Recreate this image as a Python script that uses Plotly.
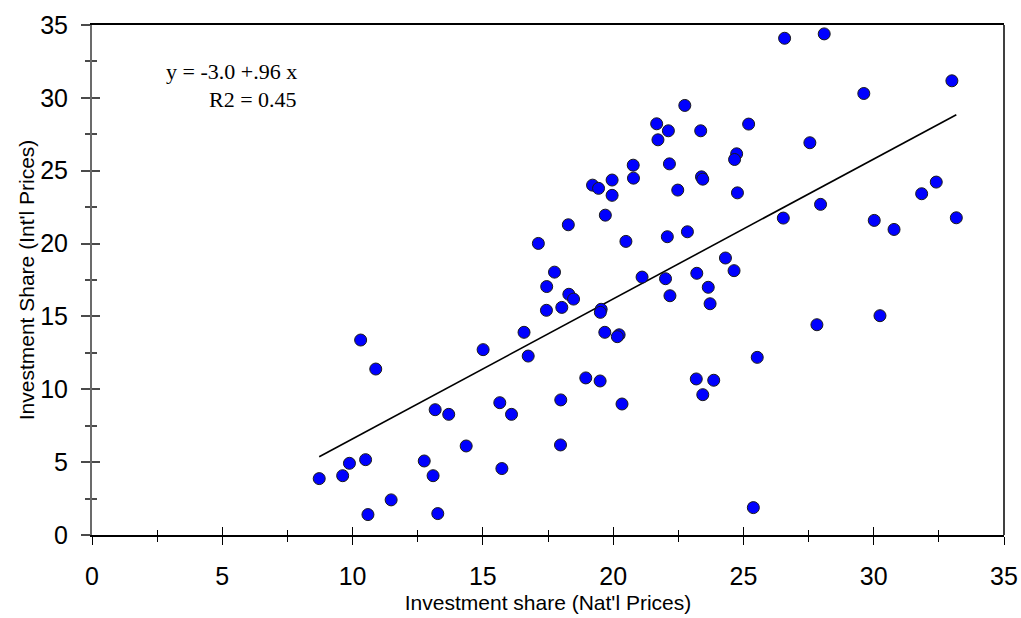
import plotly.graph_objects as go

# Investment share measured at national vs. international prices
nat_prices = [
    8.72, 9.62, 9.88, 10.50, 10.59, 11.48, 10.31, 10.89, 12.75, 13.09,
    13.27, 13.17, 13.69, 14.36, 15.01, 15.65, 16.10, 15.73, 16.58, 16.74,
    17.44, 18.03, 17.99, 17.98, 18.95, 19.50, 19.54, 19.51, 19.68, 20.23,
    20.16, 20.34, 23.72, 27.82, 30.24, 25.53, 23.19, 23.86, 23.44, 25.38,
    22.75, 21.67, 22.12, 23.36, 25.20, 21.72, 27.55, 24.74, 24.66, 20.77,
    22.16, 20.78, 23.39, 23.44, 19.21, 19.44, 19.96, 19.96, 22.48, 24.77,
    27.96, 26.53, 19.70, 18.28, 20.49, 22.08, 22.85, 24.31, 24.64, 23.21,
    23.65, 22.18, 22.01, 21.11, 17.75, 18.30, 18.48, 17.45, 26.58, 28.10,
    33.00, 29.62, 30.02, 30.78, 31.84, 32.40, 33.17, 17.13,
]
intl_prices = [
    3.87, 4.07, 4.92, 5.17, 1.40, 2.41, 13.38, 11.39, 5.08, 4.07,
    1.47, 8.60, 8.28, 6.11, 12.72, 9.08, 8.28, 4.56, 13.91, 12.28,
    15.42, 15.62, 9.27, 6.18, 10.78, 10.57, 15.49, 15.28, 13.91, 13.74,
    13.61, 8.99, 15.87, 14.43, 15.05, 12.19, 10.71, 10.62, 9.63, 1.88,
    29.48, 28.22, 27.74, 27.74, 28.20, 27.12, 26.92, 26.16, 25.77, 25.38,
    25.47, 24.49, 24.58, 24.42, 24.01, 23.79, 24.36, 23.31, 23.67, 23.48,
    22.69, 21.75, 21.95, 21.29, 20.15, 20.47, 20.81, 19.01, 18.14, 17.96,
    17.00, 16.42, 17.59, 17.70, 18.04, 16.52, 16.19, 17.05, 34.09, 34.39,
    31.17, 30.30, 21.59, 20.97, 23.42, 24.22, 21.77, 20.01,
]

# Fitted regression: y = -3.0 + 0.96 x, R2 = 0.45
intercept = -3.0
slope = 0.96
r_squared = 0.45

axis_ticks = [0, 5, 10, 15, 20, 25, 30, 35]

fit_x = [min(nat_prices), max(nat_prices)]
fit_y = [intercept + slope * v for v in fit_x]

sans = "Liberation Sans, Arial, sans-serif"
serif = "Liberation Serif, Times New Roman, serif"

fig = go.Figure()

fig.add_trace(go.Scatter(
    x=fit_x, y=fit_y, mode="lines",
    line=dict(color="black", width=1.6),
    hoverinfo="skip", showlegend=False,
))

fig.add_trace(go.Scatter(
    x=nat_prices, y=intl_prices, mode="markers",
    marker=dict(symbol="circle", size=12, color="#0000FF",
                line=dict(color="#1a1a1a", width=1)),
    showlegend=False,
))

# invisible trace that anchors the overlay axes carrying the inner tick halves
fig.add_trace(go.Scatter(
    x=[None], y=[None], xaxis="x2", yaxis="y2",
    mode="markers", showlegend=False, hoverinfo="skip",
))

common_range = [0, 35]

fig.update_layout(
    width=1021, height=618,
    margin=dict(l=92, r=17, t=25, b=83),
    paper_bgcolor="white", plot_bgcolor="white",
    font=dict(family=sans, color="black"),
    xaxis=dict(
        range=common_range, tickvals=axis_ticks, automargin=False,
        showgrid=False, zeroline=False,
        showline=True, linecolor="black", linewidth=1.5, mirror=True,
        ticks="outside", ticklen=8, tickwidth=1, tickcolor="black",
        minor=dict(ticks="outside", ticklen=5, dtick=2.5, tick0=0,
                   tickcolor="black", tickwidth=1, showgrid=False),
        tickfont=dict(family=sans, size=25, color="black"),
        ticklabelstandoff=10,
        title=dict(text="Investment share (Nat'l Prices)",
                   font=dict(family=sans, size=21, color="black"),
                   standoff=7),
    ),
    yaxis=dict(
        range=common_range, tickvals=axis_ticks, automargin=False,
        showgrid=False, zeroline=False,
        showline=True, linecolor="#6b6b6b", linewidth=2, mirror=False,
        ticks="outside", ticklen=9, tickwidth=1.5, tickcolor="#4a4a4a",
        minor=dict(ticks="outside", ticklen=5, dtick=2.5, tick0=0,
                   tickcolor="#4a4a4a", tickwidth=1.5, showgrid=False),
        tickfont=dict(family=sans, size=25, color="black"),
        ticklabelstandoff=8,
        title=dict(text="Investment Share (Int'l Prices)",
                   font=dict(family=sans, size=21, color="black"),
                   standoff=0),
    ),
    xaxis2=dict(
        range=common_range, tickvals=axis_ticks, overlaying="x",
        anchor="y", side="bottom", automargin=False,
        showgrid=False, zeroline=False, showline=False,
        showticklabels=False,
        ticks="inside", ticklen=8, tickwidth=1, tickcolor="black",
        minor=dict(ticks="inside", ticklen=5, dtick=2.5, tick0=0,
                   tickcolor="black", tickwidth=1, showgrid=False),
    ),
    yaxis2=dict(
        range=common_range, tickvals=axis_ticks, overlaying="y",
        anchor="x", side="left", automargin=False,
        showgrid=False, zeroline=False, showline=False,
        showticklabels=False,
        ticks="inside", ticklen=8, tickwidth=1.5, tickcolor="#4a4a4a",
        minor=dict(ticks="inside", ticklen=5, dtick=2.5, tick0=0,
                   tickcolor="#4a4a4a", tickwidth=1.5, showgrid=False),
    ),
    shapes=[dict(type="line", xref="paper", yref="paper",
                 x0=1, x1=1, y0=0, y1=1,
                 line=dict(color="black", width=1.5))],
)

eq_text = f"y = {intercept:.1f} +{str(slope).lstrip('0')} x"
r2_text = f"R2 = {r_squared:.2f}"

fig.add_annotation(x=7.95, y=31.8, xref="x", yref="y", text=eq_text,
                   showarrow=False, xanchor="right", yanchor="middle",
                   font=dict(family=serif, size=22, color="black"))
fig.add_annotation(x=7.95, y=29.9, xref="x", yref="y", text=r2_text,
                   showarrow=False, xanchor="right", yanchor="middle",
                   font=dict(family=serif, size=22, color="black"))

fig.write_html("out.html")
